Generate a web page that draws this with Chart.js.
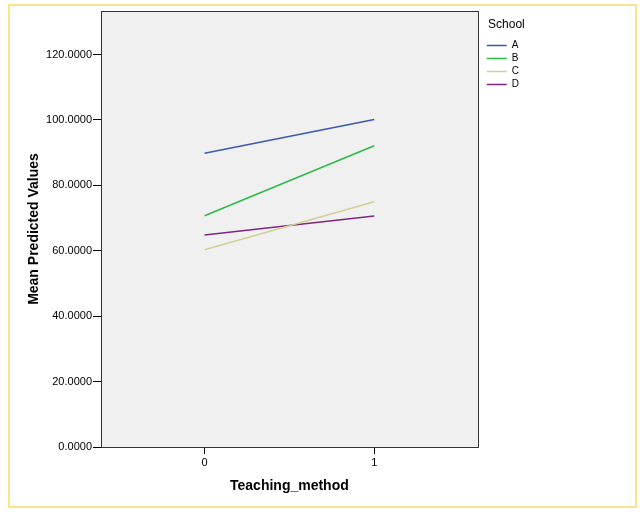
<!DOCTYPE html>
<html>
<head>
<meta charset="utf-8">
<script src="https://cdn.jsdelivr.net/npm/chart.js@4/dist/chart.umd.min.js"></script>
<style>
  html, body { margin: 0; padding: 0; background: #fff; }
  canvas { display: block; }
</style>
</head>
<body>
<canvas id="chartSchools" width="642" height="512"></canvas>
<script>
// Mean predicted values by teaching method, one line per school

var methods = [0, 1];
var schools = ['A', 'B', 'C', 'D'];
var valuesA = [89.8, 100.1];
var valuesB = [70.7, 92.1];
var valuesC = [60.3, 75.0];
var valuesD = [64.8, 70.6];
var yTicks = [0, 20, 40, 60, 80, 100, 120];
var xTicks = [0, 1];
var colors = ['#3e58ac', '#2eb848', '#d3ce97', '#7c287d'];

var fontFamily = '"Liberation Sans", Arial, sans-serif';

function points(values) {
    return methods.map(function (m, i) { return { x: m, y: values[i] }; });
}

// white page, yellow frame, grey plot area and its border
var frame = {
    id: 'frame',
    beforeDraw: function (chart) {
        var ctx = chart.ctx, a = chart.chartArea;
        ctx.save();
        ctx.fillStyle = '#ffffff';
        ctx.fillRect(0, 0, chart.width, chart.height);
        ctx.strokeStyle = '#fbe38b';
        ctx.lineWidth = 2;
        ctx.strokeRect(9, 5, 627, 502);
        ctx.fillStyle = '#f0f0f0';
        ctx.fillRect(a.left, a.top, a.right - a.left, a.bottom - a.top);
        ctx.restore();
    },
    afterDraw: function (chart) {
        var ctx = chart.ctx, a = chart.chartArea;
        ctx.save();
        ctx.strokeStyle = '#333333';
        ctx.lineWidth = 1;
        ctx.strokeRect(Math.round(a.left) + 0.5, Math.round(a.top) + 0.5,
            Math.round(a.right - a.left), Math.round(a.bottom - a.top));
        ctx.restore();
    }
};

var seriesValues = [valuesA, valuesB, valuesC, valuesD];

var chartSchools = new Chart(document.getElementById('chartSchools').getContext('2d'), {
    type: 'line',
    data: {
        datasets: schools.map(function (s, i) {
            return {
                label: s,
                data: points(seriesValues[i]),
                borderColor: colors[i],
                backgroundColor: colors[i],
                borderWidth: 1.5,
                pointRadius: 0,
                pointStyle: 'line',
                fill: false,
                tension: 0
            };
        })
    },
    options: {
        responsive: false,
        animation: false,
        devicePixelRatio: 1,
        layout: {
            padding: { left: 10, top: 11, right: 113, bottom: 10 }
        },
        scales: {
            x: {
                type: 'linear',
                min: -0.61,
                max: 1.61,
                afterBuildTicks: function (axis) {
                    axis.ticks = xTicks.map(function (v) { return { value: v }; });
                },
                afterFit: function (axis) { axis.height = 55; },
                grid: { drawOnChartArea: false, color: '#000', tickLength: 7 },
                border: { display: false },
                ticks: {
                    color: '#000',
                    padding: 2,
                    font: { family: fontFamily, size: 11 },
                    callback: function (v) { return v; }
                },
                title: {
                    display: true,
                    text: 'Teaching_method',
                    color: '#000',
                    font: { family: fontFamily, size: 14, weight: 'bold' },
                    padding: { top: 0, bottom: 7 }
                }
            },
            y: {
                min: 0,
                max: 133.3,
                afterBuildTicks: function (axis) {
                    axis.ticks = yTicks.map(function (v) { return { value: v }; });
                },
                afterFit: function (axis) { axis.width = 91; },
                grid: { drawOnChartArea: false, color: '#000', tickLength: 8 },
                border: { display: false },
                ticks: {
                    color: '#000',
                    padding: 1,
                    font: { family: fontFamily, size: 11 },
                    callback: function (v) { return Number(v).toFixed(4); }
                },
                title: {
                    display: true,
                    text: 'Mean Predicted Values',
                    color: '#000',
                    font: { family: fontFamily, size: 14, weight: 'bold' },
                    padding: { top: 16, bottom: 0 }
                }
            },
            // empty strip between plot and legend
            gap: {
                type: 'linear',
                position: 'right',
                display: true,
                afterFit: function (axis) { axis.width = 6; },
                grid: { display: false },
                border: { display: false },
                ticks: { display: false }
            }
        },
        plugins: {
            legend: {
                position: 'right',
                align: 'start',
                title: {
                    display: true,
                    text: 'School',
                    color: '#000',
                    font: { family: fontFamily, size: 12 },
                    padding: { top: 8, bottom: 4 }
                },
                labels: {
                    usePointStyle: true,
                    pointStyleWidth: 20,
                    padding: 3,
                    color: '#000',
                    font: { family: fontFamily, size: 10 }
                }
            },
            tooltip: { enabled: false }
        }
    },
    plugins: [frame]
});
</script>
</body>
</html>
